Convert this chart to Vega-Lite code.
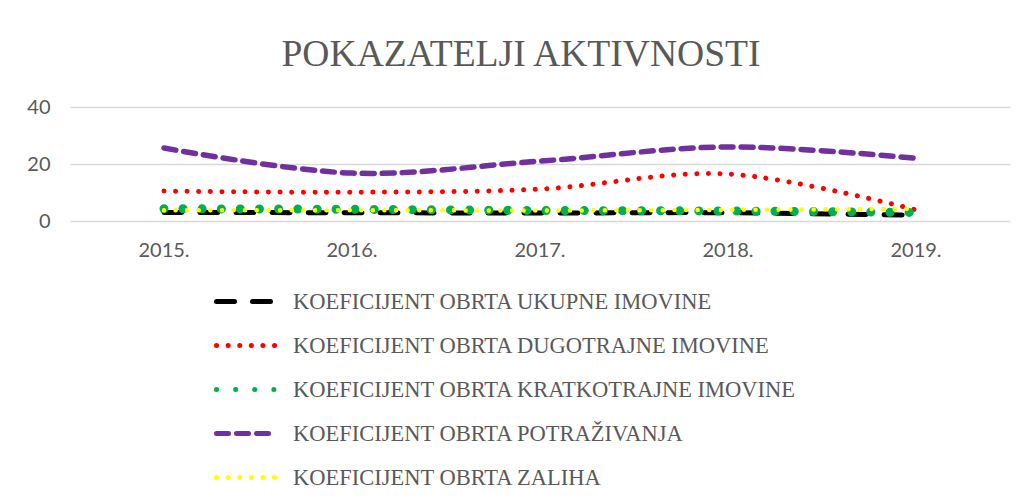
{
  "$schema": "https://vega.github.io/schema/vega-lite/v6.json",
  "width": 940,
  "height": 114,
  "autosize": "none",
  "padding": {"left": 70, "top": 107, "right": 12, "bottom": 278},
  "background": "white",
  "title": {
    "text": "POKAZATELJI AKTIVNOSTI",
    "font": "Liberation Serif",
    "fontSize": 37.6,
    "fontWeight": "normal",
    "color": "#595959",
    "anchor": "middle",
    "frame": "group",
    "dx": -19,
    "offset": 23
  },
  "data": {
    "values": [
      {"year": "2015.", "series": "KOEFICIJENT OBRTA UKUPNE IMOVINE", "value": 3.0},
      {"year": "2016.", "series": "KOEFICIJENT OBRTA UKUPNE IMOVINE", "value": 2.9},
      {"year": "2017.", "series": "KOEFICIJENT OBRTA UKUPNE IMOVINE", "value": 2.8},
      {"year": "2018.", "series": "KOEFICIJENT OBRTA UKUPNE IMOVINE", "value": 2.9},
      {"year": "2019.", "series": "KOEFICIJENT OBRTA UKUPNE IMOVINE", "value": 2.0},
      {"year": "2015.", "series": "KOEFICIJENT OBRTA DUGOTRAJNE IMOVINE", "value": 10.5},
      {"year": "2016.", "series": "KOEFICIJENT OBRTA DUGOTRAJNE IMOVINE", "value": 10.1},
      {"year": "2017.", "series": "KOEFICIJENT OBRTA DUGOTRAJNE IMOVINE", "value": 11.2},
      {"year": "2018.", "series": "KOEFICIJENT OBRTA DUGOTRAJNE IMOVINE", "value": 16.5},
      {"year": "2019.", "series": "KOEFICIJENT OBRTA DUGOTRAJNE IMOVINE", "value": 3.9},
      {"year": "2015.", "series": "KOEFICIJENT OBRTA KRATKOTRAJNE IMOVINE", "value": 4.3},
      {"year": "2016.", "series": "KOEFICIJENT OBRTA KRATKOTRAJNE IMOVINE", "value": 4.1},
      {"year": "2017.", "series": "KOEFICIJENT OBRTA KRATKOTRAJNE IMOVINE", "value": 3.7},
      {"year": "2018.", "series": "KOEFICIJENT OBRTA KRATKOTRAJNE IMOVINE", "value": 3.5},
      {"year": "2019.", "series": "KOEFICIJENT OBRTA KRATKOTRAJNE IMOVINE", "value": 3.0},
      {"year": "2015.", "series": "KOEFICIJENT OBRTA POTRAŽIVANJA", "value": 25.6},
      {"year": "2016.", "series": "KOEFICIJENT OBRTA POTRAŽIVANJA", "value": 16.8},
      {"year": "2017.", "series": "KOEFICIJENT OBRTA POTRAŽIVANJA", "value": 21.0},
      {"year": "2018.", "series": "KOEFICIJENT OBRTA POTRAŽIVANJA", "value": 26.0},
      {"year": "2019.", "series": "KOEFICIJENT OBRTA POTRAŽIVANJA", "value": 22.0},
      {"year": "2015.", "series": "KOEFICIJENT OBRTA ZALIHA", "value": 3.8},
      {"year": "2016.", "series": "KOEFICIJENT OBRTA ZALIHA", "value": 3.8},
      {"year": "2017.", "series": "KOEFICIJENT OBRTA ZALIHA", "value": 3.7},
      {"year": "2018.", "series": "KOEFICIJENT OBRTA ZALIHA", "value": 3.9},
      {"year": "2019.", "series": "KOEFICIJENT OBRTA ZALIHA", "value": 4.3}
    ]
  },
  "encoding": {
    "x": {
      "field": "year", "type": "ordinal",
      "scale": {"type": "band", "paddingInner": 0, "paddingOuter": 0},
      "axis": {
        "title": null, "labelAngle": 0, "ticks": false, "domain": false, "grid": false,
        "labelFont": "Lato", "labelFontSize": 20, "labelColor": "#595959", "labelPadding": 19
      }
    },
    "y": {
      "field": "value", "type": "quantitative",
      "scale": {"domain": [0, 40], "nice": false},
      "axis": {
        "title": null, "values": [0, 20, 40], "ticks": false, "domain": false,
        "gridColor": "#d9d9d9", "gridWidth": 1.3,
        "labelFont": "Lato", "labelFontSize": 20, "labelColor": "#595959", "labelPadding": 20
      }
    },
    "color": {
      "field": "series", "type": "nominal",
      "scale": {
        "domain": ["KOEFICIJENT OBRTA UKUPNE IMOVINE", "KOEFICIJENT OBRTA DUGOTRAJNE IMOVINE", "KOEFICIJENT OBRTA KRATKOTRAJNE IMOVINE", "KOEFICIJENT OBRTA POTRAŽIVANJA", "KOEFICIJENT OBRTA ZALIHA"],
        "range": ["#000000", "#ff0000", "#00b050", "#7030a0", "#ffff00"]
      },
      "legend": {
        "title": null,
        "orient": "none",
        "legendX": 144,
        "legendY": 162,
        "direction": "vertical",
        "symbolType": "stroke",
        "symbolSize": 3600,
        "symbolStrokeWidth": 5,
        "labelFont": "Liberation Serif",
        "labelFontSize": 22.5,
        "labelColor": "#595959",
        "labelLimit": 700,
        "labelOffset": 14,
        "rowPadding": 0,
        "encoding": {"symbols": {"strokeCap": {"value": "round"}}}
      }
    },
    "strokeDash": {
      "field": "series", "type": "nominal",
      "scale": {
        "domain": ["KOEFICIJENT OBRTA UKUPNE IMOVINE", "KOEFICIJENT OBRTA DUGOTRAJNE IMOVINE", "KOEFICIJENT OBRTA KRATKOTRAJNE IMOVINE", "KOEFICIJENT OBRTA POTRAŽIVANJA", "KOEFICIJENT OBRTA ZALIHA"],
        "range": [[18, 18], [0.1, 11.5], [0.1, 19], [12, 8], [0.1, 11.5]]
      },
      "legend": null
    }
  },
  "layer": [
    {
      "transform": [{"filter": "datum.series === 'KOEFICIJENT OBRTA UKUPNE IMOVINE'"}],
      "mark": {"type": "line", "interpolate": "catmull-rom", "strokeWidth": 5, "strokeCap": "round"}
    },
    {
      "transform": [{"filter": "datum.series === 'KOEFICIJENT OBRTA DUGOTRAJNE IMOVINE'"}],
      "mark": {"type": "line", "interpolate": "catmull-rom", "strokeWidth": 5, "strokeCap": "round"}
    },
    {
      "transform": [{"filter": "datum.series === 'KOEFICIJENT OBRTA KRATKOTRAJNE IMOVINE'"}],
      "mark": {"type": "line", "interpolate": "catmull-rom", "strokeWidth": 9, "strokeCap": "round"}
    },
    {
      "transform": [{"filter": "datum.series === 'KOEFICIJENT OBRTA POTRAŽIVANJA'"}],
      "mark": {"type": "line", "interpolate": "catmull-rom", "strokeWidth": 5.5, "strokeCap": "round"}
    },
    {
      "transform": [{"filter": "datum.series === 'KOEFICIJENT OBRTA ZALIHA'"}],
      "mark": {"type": "line", "interpolate": "catmull-rom", "strokeWidth": 4.5, "strokeCap": "round"}
    }
  ],
  "config": {"view": {"stroke": null}}
}
